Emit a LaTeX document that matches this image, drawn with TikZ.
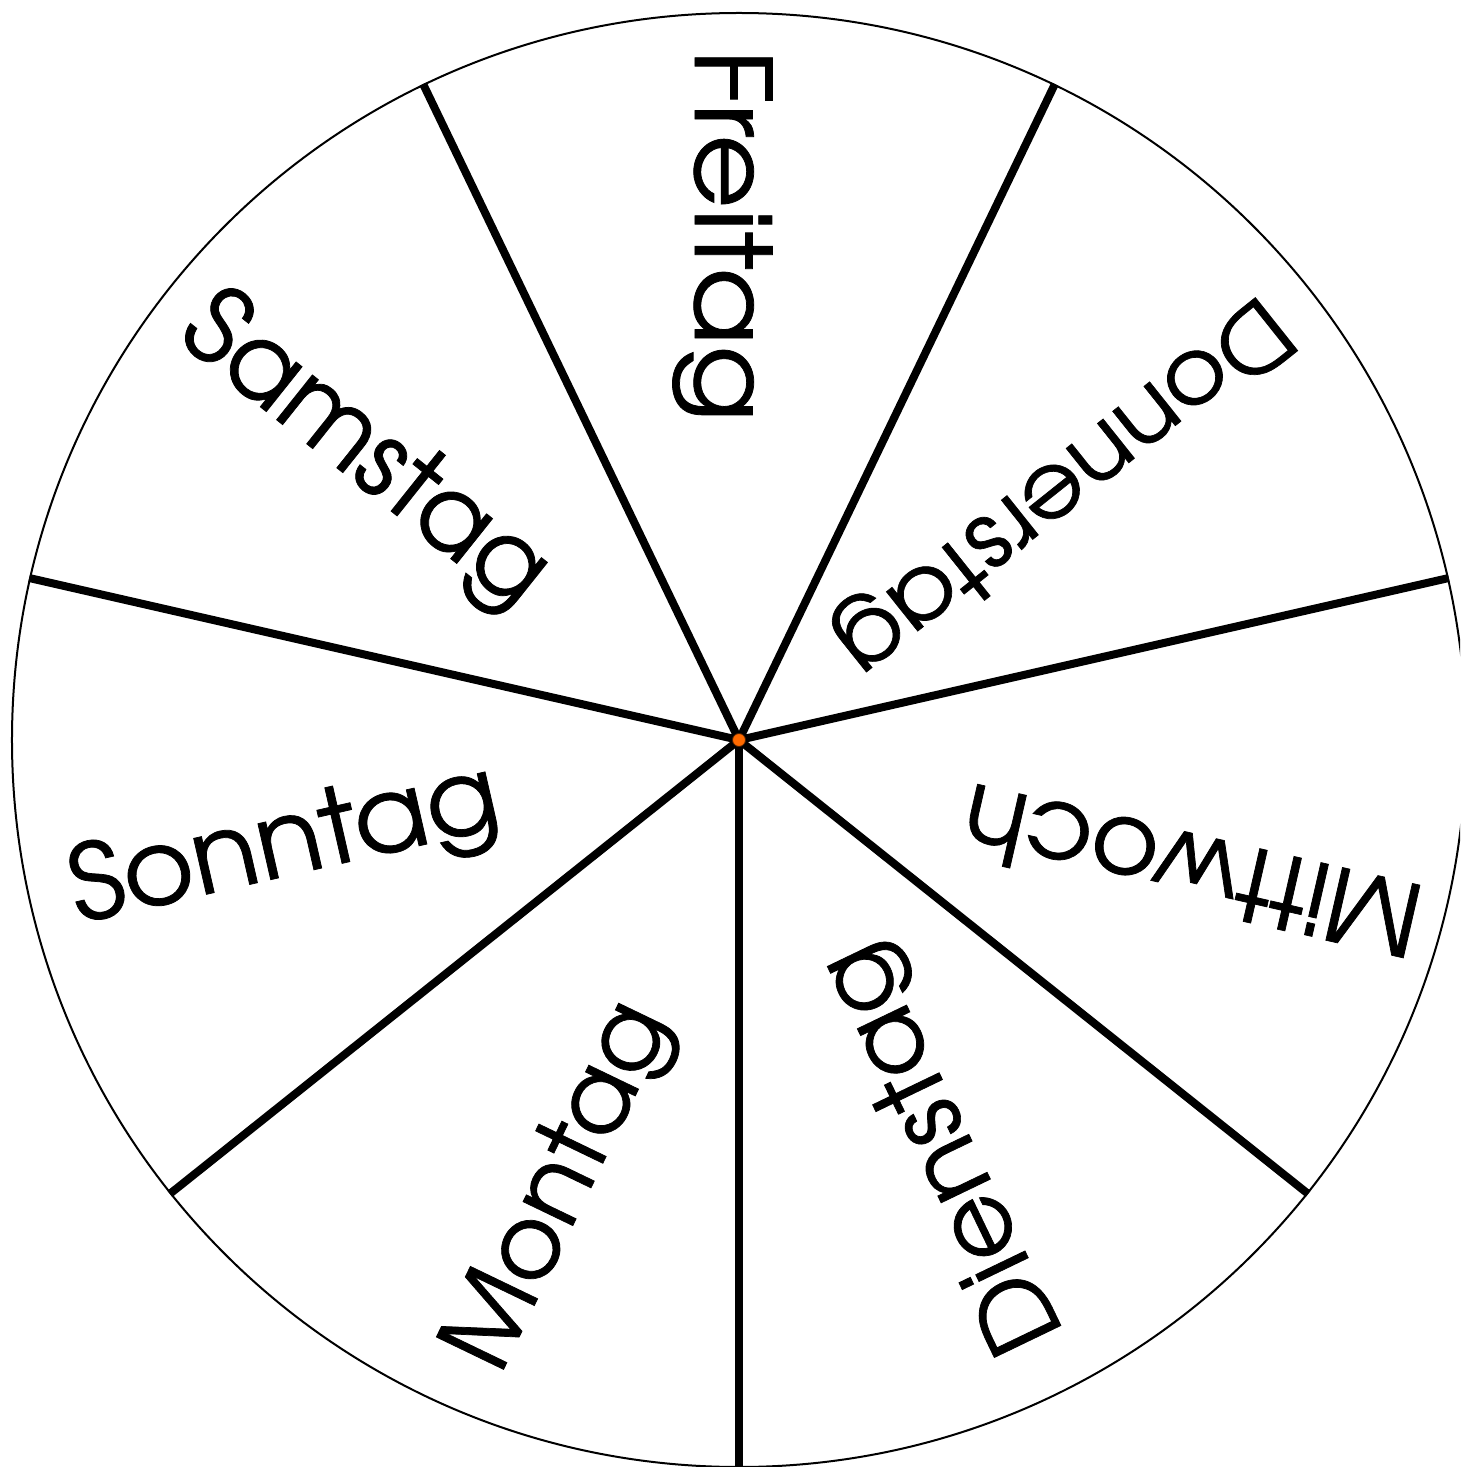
\documentclass[tikz,border=0pt]{standalone}
\usepackage{fontspec}
\usepackage{graphicx}
\setmainfont{TeX Gyre Adventor}[FakeBold=0.7]
\usetikzlibrary{calc}
\definecolor{dotorange}{HTML}{FF6A00}
\tikzset{
  rim/.style={draw=black, line width=2pt},
  spoke/.style={draw=black, line width=8pt},
  daylabel/.style={inner sep=0pt, outer sep=0pt, anchor=base west},
  hub/.style={circle, fill=dotorange, draw=black!70!dotorange, line width=0.8pt, minimum size=13pt, inner sep=0pt}
}
\newcommand{\daytext}[3]{\resizebox{#3pt}{\height}{\fontsize{#2pt}{#2pt}\selectfont #1}}
\begin{document}
\begin{tikzpicture}
\path[use as bounding box, clip] (-739pt,-727pt) rectangle (721pt,740pt);
\fill[white] (-739pt,-727pt) rectangle (721pt,740pt);
\coordinate (c) at (0pt,0pt);
\draw[rim] (c) circle[radius=727pt];
\foreach \k in {0,...,6}{
  \coordinate (s\k) at ({64.2857-\k*51.4286}:728pt);
  \draw[spoke] (c) -- (s\k);
}
\foreach \t/\a/\rs/\bo/\fs/\w in {
  Freitag/90/691/-44/105/373,
  Donnerstag/38.5714/687/-24/92/551,
  Mittwoch/-12.8571/704/-10/101/468,
  Dienstag/-64.2857/675/-36/100/439,
  Montag/-115.7143/677/-61/101/394,
  Sonntag/192.8571/685/-32/105/437,
  Samstag/141.4286/691/-38/105/437}{
  \node[daylabel, rotate=\a+180] (l\t) at ($(\a:\rs pt)+(\a-90:\bo pt)$) {\daytext{\t}{\fs}{\w}};
}
\node[hub] (hubdot) at (c) {};
\end{tikzpicture}
\end{document}
